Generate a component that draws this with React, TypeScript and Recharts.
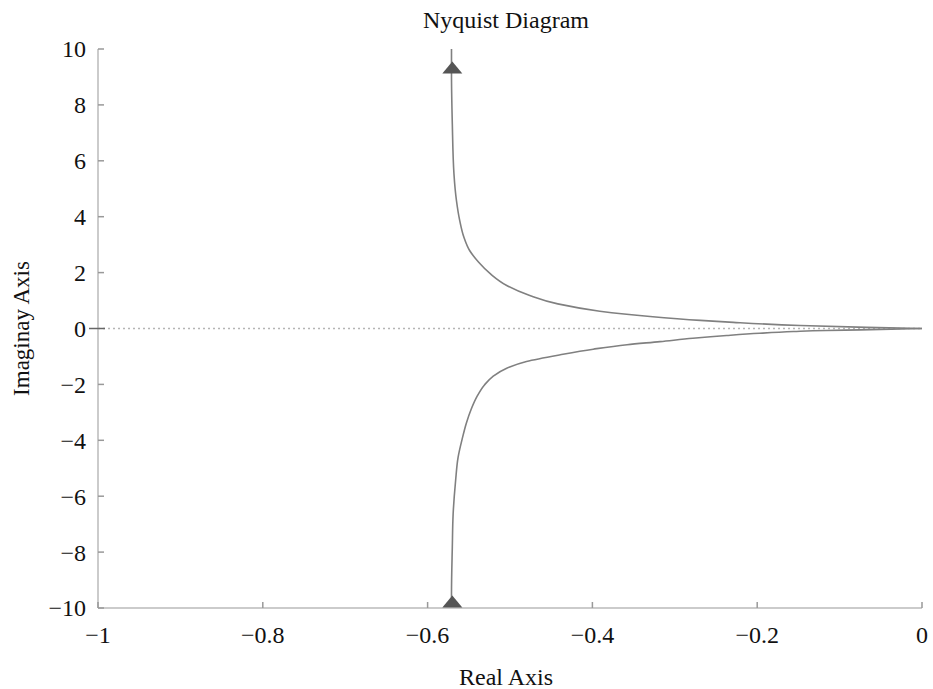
import React from 'react';
import { ComposedChart, Line, Scatter, XAxis, YAxis, ReferenceLine } from 'recharts';

// upper branch (omega > 0 side)
const upperRe = [-0.571, -0.571, -0.570, -0.568, -0.565, -0.561, -0.556, -0.549, -0.538, -0.524, -0.504, -0.476, -0.442, -0.391, -0.330, -0.269, -0.229, -0.148, -0.067, 0];
const upperIm = [10, 9.11, 7.32, 5.53, 4.58, 3.86, 3.27, 2.79, 2.37, 1.96, 1.54, 1.18, 0.88, 0.62, 0.43, 0.29, 0.22, 0.11, 0.04, 0];

// lower branch
const lowerRe = [0, -0.075, -0.116, -0.156, -0.197, -0.237, -0.278, -0.318, -0.358, -0.399, -0.439, -0.480, -0.504, -0.521, -0.531, -0.540, -0.547, -0.553, -0.558, -0.563, -0.566, -0.569, -0.570, -0.571, -0.571];
const lowerIm = [0, -0.05, -0.07, -0.11, -0.17, -0.25, -0.35, -0.47, -0.58, -0.74, -0.94, -1.18, -1.42, -1.72, -2.02, -2.43, -2.88, -3.39, -3.95, -4.61, -5.44, -6.63, -7.82, -9.49, -10];

// direction arrows
const arrowRe = [-0.57, -0.57];
const arrowIm = [9.3, -9.8];

const xTicks = [-1, -0.8, -0.6, -0.4, -0.2, 0];
const yTicks = [-10, -8, -6, -4, -2, 0, 2, 4, 6, 8, 10];

const upper = upperRe.map((re, i) => ({ re, im: upperIm[i] }));
const lower = lowerRe.map((re, i) => ({ re, im: lowerIm[i] }));
const arrows = arrowRe.map((re, i) => ({ re, im: arrowIm[i] }));

const FONT = 'Times New Roman, Liberation Serif, DejaVu Serif, serif';
const AXIS = '#cbcbcb';
const TICK = '#999';
const TL = 6;

const fmt = (v: number) => (v < 0 ? '\u2212' + String(Math.abs(v)) : String(v));

const BottomTick = (p: any) => (
  <g>
    <line x1={p.x} y1={p.y} x2={p.x} y2={p.y - TL} stroke={TICK} strokeWidth={1.5} />
    <text x={p.x} y={p.y + 35} textAnchor="middle" fontSize={24} style={{ fontFamily: FONT }} fill="#111">
      {fmt(p.payload.value)}
    </text>
  </g>
);

const LeftTick = (p: any) => (
  <g>
    {p.payload.value === 0 ? (
      <line x1={p.x - 9} y1={p.y} x2={p.x + 7} y2={p.y} stroke="#666" strokeWidth={1.5} />
    ) : (
      <line x1={p.x} y1={p.y} x2={p.x + TL} y2={p.y} stroke={TICK} strokeWidth={1.5} />
    )}
    <text x={p.x - 12} y={p.y} dy="0.35em" textAnchor="end" fontSize={24} style={{ fontFamily: FONT }} fill="#111">
      {fmt(p.payload.value)}
    </text>
  </g>
);

const TopTick = (p: any) => (
  <line x1={p.x} y1={p.y} x2={p.x} y2={p.y + TL} stroke={TICK} strokeWidth={1.5} />
);

const RightTick = (p: any) => (
  <line x1={p.x} y1={p.y} x2={p.x - TL - 2} y2={p.y} stroke={TICK} strokeWidth={1.5} />
);

const Arrow = (p: any) => (
  <polygon
    points={`${p.cx},${p.cy - 7} ${p.cx - 10},${p.cy + 5} ${p.cx + 10},${p.cy + 5}`}
    fill="#555"
  />
);

export default function App() {
  return (
    <div style={{ position: 'absolute', left: 0, top: 0, width: 933, height: 689, background: '#fff', fontFamily: FONT }}>
      <div
        style={{
          position: 'absolute',
          left: 0,
          width: 1012,
          top: 8,
          textAlign: 'center',
          fontSize: 24,
          lineHeight: '24px',
          color: '#111',
        }}
      >
        Nyquist Diagram
      </div>
      <ComposedChart width={933} height={689} margin={{ top: 49, right: 11, bottom: 21, left: 0 }}>
        <XAxis
          xAxisId="top"
          orientation="top"
          type="number"
          domain={[-1, 0]}
          ticks={xTicks}
          height={0}
          tickSize={0}
          tickMargin={0}
          tickLine={false}
          tick={TopTick}
          axisLine={{ stroke: AXIS, strokeWidth: 2 }}
        />
        <YAxis
          yAxisId="right"
          orientation="right"
          type="number"
          domain={[-10, 10]}
          ticks={yTicks}
          width={0}
          tickSize={0}
          tickMargin={0}
          tickLine={false}
          tick={RightTick}
          axisLine={{ stroke: AXIS, strokeWidth: 2 }}
        />
        <XAxis
          dataKey="re"
          type="number"
          domain={[-1, 0]}
          ticks={xTicks}
          allowDataOverflow
          height={60}
          tickSize={0}
          tickMargin={0}
          tickLine={false}
          tick={BottomTick}
          axisLine={{ stroke: AXIS, strokeWidth: 2 }}
          label={{ value: 'Real Axis', position: 'insideBottom', offset: -17, dx: -4, fontSize: 24, fill: '#111', style: { fontFamily: FONT } }}
        />
        <YAxis
          dataKey="im"
          type="number"
          domain={[-10, 10]}
          ticks={yTicks}
          allowDataOverflow
          width={98}
          tickSize={0}
          tickMargin={0}
          tickLine={false}
          tick={LeftTick}
          axisLine={{ stroke: AXIS, strokeWidth: 2 }}
          label={{
            value: 'Imaginay Axis',
            angle: -90,
            position: 'insideLeft',
            offset: 21,
            fontSize: 23,
            fill: '#111',
            style: { textAnchor: 'middle', fontFamily: FONT },
          }}
        />
        <ReferenceLine y={0} stroke="#b5b5b5" strokeWidth={1.5} strokeDasharray="2 3" />
        <Line data={upper} dataKey="im" type="monotoneY" stroke="#808080" strokeWidth={1.6} dot={false} isAnimationActive={false} />
        <Line data={lower} dataKey="im" type="monotoneY" stroke="#808080" strokeWidth={1.6} dot={false} isAnimationActive={false} />
        <Scatter data={arrows} dataKey="im" shape={Arrow} isAnimationActive={false} />
      </ComposedChart>
    </div>
  );
}
